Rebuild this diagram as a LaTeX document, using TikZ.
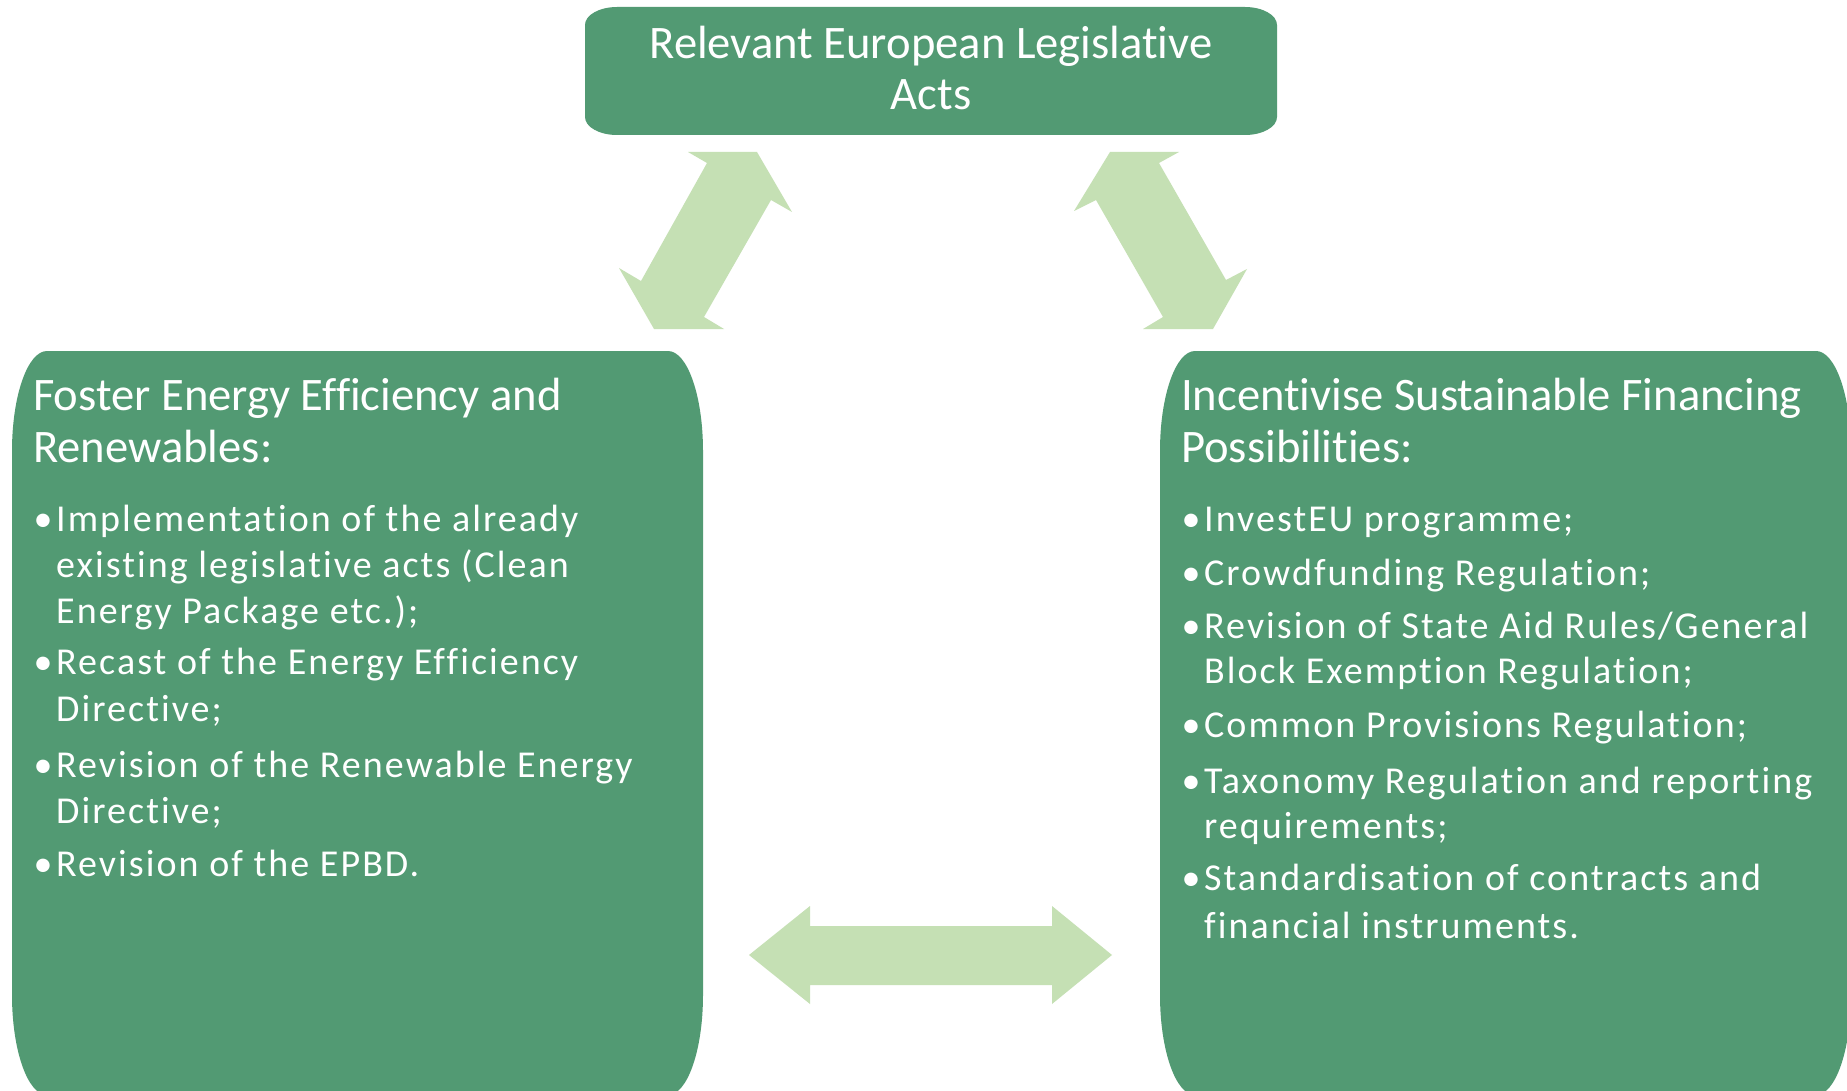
\documentclass[tikz,border=0pt]{standalone}
\usepackage{fontspec}
\setmainfont[Ligatures=NoCommon]{Carlito}
\newfontfamily\itemfam[LetterSpace=5.4,Ligatures=NoCommon]{Carlito}
\newcommand\myHead{\fontsize{46.6}{52}\selectfont}
\newcommand\myItem{\itemfam\fontsize{38}{46}\selectfont}
\definecolor{boxgreen}{RGB}{82,154,115}
\definecolor{arrowgreen}{RGB}{197,224,180}
\tikzset{
  box/.style={fill=boxgreen, draw=none},
  arr/.style={fill=arrowgreen, draw=none},
  head/.style={font=\myHead, text=white, inner sep=0pt, anchor=base west},
  headc/.style={font=\myHead, text=white, inner sep=0pt, anchor=base},
  item/.style={font=\myItem, text=white, inner sep=0pt, anchor=base west},
  dot/.style={font=\myItem, text=white, inner sep=0pt, anchor=base},
}
\newcommand\eboxpath[6]{%
  (#1,#2+#6) arc[start angle=180, end angle=270, x radius=#5, y radius=#6]
  -- (#3-#5,#2) arc[start angle=270, end angle=360, x radius=#5, y radius=#6]
  -- (#3,#4-#6) arc[start angle=0, end angle=90, x radius=#5, y radius=#6]
  -- (#1+#5,#4) arc[start angle=90, end angle=180, x radius=#5, y radius=#6]
  -- cycle}
\begin{document}
\begin{tikzpicture}[x=1pt,y=-1pt]
\clip (0,0) rectangle (1847,1091);
\fill[white] (0,0) rectangle (1847,1091);

% boxes
\fill[box] \eboxpath{585}{7}{1277}{135}{32}{18};
\fill[box] \eboxpath{12}{351}{703}{1095}{35}{100};
\fill[box] \eboxpath{1160}{351}{1851}{1095}{35}{100};

% arrows
\fill[arr] (688,152) -- (757,152) -- (792,212) -- (771,200) -- (704,317) -- (724,329)
  -- (654,329) -- (619,268) -- (641,281) -- (707,163) -- cycle;
\fill[arr] (1110,152) -- (1179,152) -- (1159,163) -- (1226,280) -- (1247,269)
  -- (1213,329) -- (1143,329) -- (1163,317) -- (1096,200) -- (1074,211) -- cycle;
\fill[arr] (749,955) -- (810,906) -- (810,926) -- (1052,926) -- (1052,906) -- (1112,955)
  -- (1052,1004) -- (1052,985) -- (810,985) -- (810,1004) -- cycle;

% top box text
\node[headc] (t1) at (931,59) {Relevant European Legislative};
\node[headc] (t2) at (931,110) {Acts};

% left box
\node[head] (lh1) at (33,410) {Foster Energy Efficiency and};
\node[head] (lh2) at (33,462) {Renewables:};
\node[dot] (ld1) at (43,531) {•};
\node[item] (l1a) at (56,531) {Implementation of the already};
\node[item] (l1b) at (56,577) {existing legislative acts (Clean};
\node[item] (l1c) at (56,623) {Energy Package etc.);};
\node[dot] (ld2) at (43,674) {•};
\node[item] (l2a) at (56,674) {Recast of the Energy Efficiency};
\node[item] (l2b) at (56,721) {Directive;};
\node[dot] (ld3) at (43,777) {•};
\node[item] (l3a) at (56,777) {Revision of the Renewable Energy};
\node[item] (l3b) at (56,823) {Directive;};
\node[dot] (ld4) at (43,876) {•};
\node[item] (l4a) at (56,876) {Revision of the EPBD.};

% right box
\node[head] (rh1) at (1181,410) {Incentivise Sustainable Financing};
\node[head] (rh2) at (1181,462) {Possibilities:};
\node[dot] (rd1) at (1191,531) {•};
\node[item] (r1a) at (1204,531) {InvestEU programme;};
\node[dot] (rd2) at (1191,585) {•};
\node[item] (r2a) at (1204,585) {Crowdfunding Regulation;};
\node[dot] (rd3) at (1191,638) {•};
\node[item] (r3a) at (1204,638) {Revision of State Aid Rules/General};
\node[item] (r3b) at (1204,683) {Block Exemption Regulation;};
\node[dot] (rd4) at (1191,737) {•};
\node[item] (r4a) at (1204,737) {Common Provisions Regulation;};
\node[dot] (rd5) at (1191,793) {•};
\node[item] (r5a) at (1204,793) {Taxonomy Regulation and reporting};
\node[item] (r5b) at (1204,838) {requirements;};
\node[dot] (rd6) at (1191,890) {•};
\node[item] (r6a) at (1204,890) {Standardisation of contracts and};
\node[item] (r6b) at (1204,938) {financial instruments.};
\end{tikzpicture}
\end{document}
